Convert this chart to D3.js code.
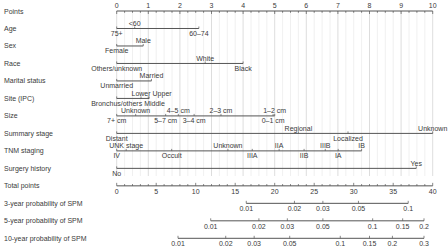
<!DOCTYPE html>
<html>
<head>
<meta charset="utf-8">
<script src="https://cdn.jsdelivr.net/npm/d3@7"></script>
<style>
  body { margin: 0; background: #fff; }
  svg { display: block; font-family: "Liberation Sans", Arial, sans-serif; }
  .lbl { font-size: 7px; fill: #3a3a3a; }
</style>
</head>
<body>
<svg id="chart"></svg>
<script>
// row names, top to bottom
const rowNames = ["Points", "Age", "Sex", "Race", "Marital status", "Site (IPC)", "Size",
  "Summary stage", "TNM staging", "Surgery history", "Total points",
  "3-year probability of SPM", "5-year probability of SPM", "10-year probability of SPM"];

// predictor levels and their points
const ageLevels = ["75+", "<60", "60–74"];
const agePoints = [0, 0.57, 2.6];
const sexLevels = ["Female", "Male"];
const sexPoints = [0, 0.84];
const raceLevels = ["Others/unknown", "White", "Black"];
const racePoints = [0, 2.8, 4.0];
const maritalLevels = ["Unmarried", "Married"];
const maritalPoints = [0, 1.1];
const siteLevels = ["Bronchus/others", "Lower", "Middle", "Upper"];
const sitePoints = [0, 0.77, 1.0, 1.03];
const sizeLevels = ["7+ cm", "Unknown", "5–7 cm", "4–5 cm", "3–4 cm", "2–3 cm", "0–1 cm", "1–2 cm"];
const sizePoints = [0, 0.6, 1.55, 1.95, 2.45, 3.3, 4.95, 5.0];
const stageLevels = ["Distant", "Regional", "Localized", "Unknown"];
const stagePoints = [0, 5.75, 7.32, 10];
const tnmLevels = ["IV", "UNK stage", "Occult", "Unknown", "IIIA", "IIA", "IIB", "IIIB", "IA", "IB"];
const tnmPoints = [0, 0.3, 1.74, 3.52, 4.29, 5.14, 5.93, 6.6, 7.01, 7.75];
const surgeryLevels = ["No", "Yes"];
const surgeryPoints = [0, 9.48];

// probability ticks and their total-points positions
const prob3 = [0.01, 0.02, 0.03, 0.05, 0.1];
const prob3Total = [16.4, 22.5, 26.1, 30.6, 36.9];
const prob5 = [0.01, 0.02, 0.03, 0.05, 0.1, 0.15, 0.2];
const prob5Total = [11.9, 18.0, 21.6, 26.1, 32.4, 36.2, 38.9];
const prob10 = [0.01, 0.02, 0.03, 0.05, 0.1, 0.15, 0.2, 0.3];
const prob10Total = [7.76, 13.8, 17.4, 21.9, 28.3, 32.0, 34.9, 38.9];

const width = 448, height = 251;
const left = 116.7, right = 432.7;
const lineColor = "#555";

const svg = d3.select("#chart")
  .attr("width", width)
  .attr("height", height)
  .attr("viewBox", [0, 0, width, height]);

const x = d3.scaleLinear().domain([0, 10]).range([left, right]);
const xTotal = d3.scaleLinear().domain([0, 40]).range([left, right]);
const y = d3.scalePoint().domain(rowNames).range([11, 238.3]);

// vertical grid
svg.append("g")
  .selectAll("line")
  .data(d3.range(0, 10.001, 0.25))
  .join("line")
  .attr("x1", d => x(d)).attr("x2", d => x(d))
  .attr("y1", y("Points")).attr("y2", 176)
  .attr("stroke", d => Math.abs(d - Math.round(d)) < 1e-6 ? "#d4d4d4" : "#ececec")
  .attr("stroke-width", 0.8);

// row labels
svg.append("g")
  .selectAll("text")
  .data(rowNames)
  .join("text")
  .attr("class", "lbl")
  .attr("x", 4)
  .attr("y", d => y(d) + 2.5)
  .text(d => d);

// points axis
const gp = svg.append("g");
gp.append("line")
  .attr("x1", x(0)).attr("x2", x(10))
  .attr("y1", y("Points")).attr("y2", y("Points"))
  .attr("stroke", lineColor);
gp.selectAll(".minor")
  .data(d3.range(0, 10.001, 0.25))
  .join("line")
  .attr("x1", d => x(d)).attr("x2", d => x(d))
  .attr("y1", y("Points"))
  .attr("y2", d => y("Points") + (Math.abs(d - Math.round(d)) < 1e-6 ? 3 : 1.8))
  .attr("stroke", lineColor).attr("stroke-width", 0.7);
gp.selectAll("text")
  .data(d3.range(0, 11))
  .join("text")
  .attr("class", "lbl")
  .attr("text-anchor", "middle")
  .attr("x", d => x(d))
  .attr("y", y("Points") - 3.5)
  .text(d => d);

// predictor rows
const predictors = [
  ["Age", ageLevels, agePoints],
  ["Sex", sexLevels, sexPoints],
  ["Race", raceLevels, racePoints],
  ["Marital status", maritalLevels, maritalPoints],
  ["Site (IPC)", siteLevels, sitePoints],
  ["Size", sizeLevels, sizePoints],
  ["Summary stage", stageLevels, stagePoints],
  ["TNM staging", tnmLevels, tnmPoints],
  ["Surgery history", surgeryLevels, surgeryPoints]
];

predictors.forEach(([row, levels, pts]) => {
  const g = svg.append("g");
  const yy = y(row);
  const items = levels.map((name, i) => ({name, pts: pts[i]}))
    .sort((a, b) => a.pts - b.pts);

  g.append("line")
    .attr("x1", x(d3.min(pts))).attr("x2", x(d3.max(pts)))
    .attr("y1", yy).attr("y2", yy)
    .attr("stroke", lineColor);

  g.selectAll(".tick")
    .data(items)
    .join("line")
    .attr("x1", d => x(d.pts)).attr("x2", d => x(d.pts))
    .attr("y1", yy).attr("y2", yy - 2)
    .attr("stroke", lineColor).attr("stroke-width", 0.7);

  // alternate labels below / above, push overlapping ones to the right
  items.forEach((d, i) => { d.below = i % 2 === 0; });
  const texts = g.selectAll(".lvl")
    .data(items)
    .join("text")
    .attr("class", "lbl lvl")
    .attr("y", d => d.below ? yy + 7.5 : yy - 2.8)
    .text(d => d.name);
  texts.each(function (d) { d.w = this.getComputedTextLength(); });
  [true, false].forEach(side => {
    let prevRight = -Infinity;
    items.filter(d => d.below === side).forEach(d => {
      let l = x(d.pts) - d.w / 2;
      if (l < prevRight + 2) l = prevRight + 2;
      d.lx = l;
      prevRight = l + d.w;
    });
  });
  texts.attr("x", d => d.lx);
});

// total points axis
const gt = svg.append("g");
const yt = y("Total points");
gt.append("line")
  .attr("x1", xTotal(0)).attr("x2", xTotal(40))
  .attr("y1", yt).attr("y2", yt)
  .attr("stroke", lineColor);
gt.selectAll(".tick")
  .data(d3.range(0, 41))
  .join("line")
  .attr("x1", d => xTotal(d)).attr("x2", d => xTotal(d))
  .attr("y1", yt)
  .attr("y2", d => yt - (d % 5 === 0 ? 3 : 1.8))
  .attr("stroke", lineColor).attr("stroke-width", 0.7);
gt.selectAll("text")
  .data(d3.range(0, 41, 5))
  .join("text")
  .attr("class", "lbl")
  .attr("text-anchor", "middle")
  .attr("x", d => xTotal(d))
  .attr("y", yt + 8.5)
  .text(d => d);

// probability axes
[["3-year probability of SPM", prob3, prob3Total],
 ["5-year probability of SPM", prob5, prob5Total],
 ["10-year probability of SPM", prob10, prob10Total]].forEach(([row, probs, tot]) => {
  const g = svg.append("g");
  const yy = y(row);
  const items = probs.map((p, i) => ({p, t: tot[i]}));
  g.append("line")
    .attr("x1", xTotal(d3.min(tot))).attr("x2", xTotal(d3.max(tot)))
    .attr("y1", yy).attr("y2", yy)
    .attr("stroke", lineColor);
  g.selectAll(".tick")
    .data(items)
    .join("line")
    .attr("x1", d => xTotal(d.t)).attr("x2", d => xTotal(d.t))
    .attr("y1", yy).attr("y2", yy - 2.5)
    .attr("stroke", lineColor).attr("stroke-width", 0.7);
  g.selectAll("text")
    .data(items)
    .join("text")
    .attr("class", "lbl")
    .attr("text-anchor", "middle")
    .attr("x", d => xTotal(d.t))
    .attr("y", yy + 8)
    .text(d => d.p);
});
</script>
</body>
</html>
